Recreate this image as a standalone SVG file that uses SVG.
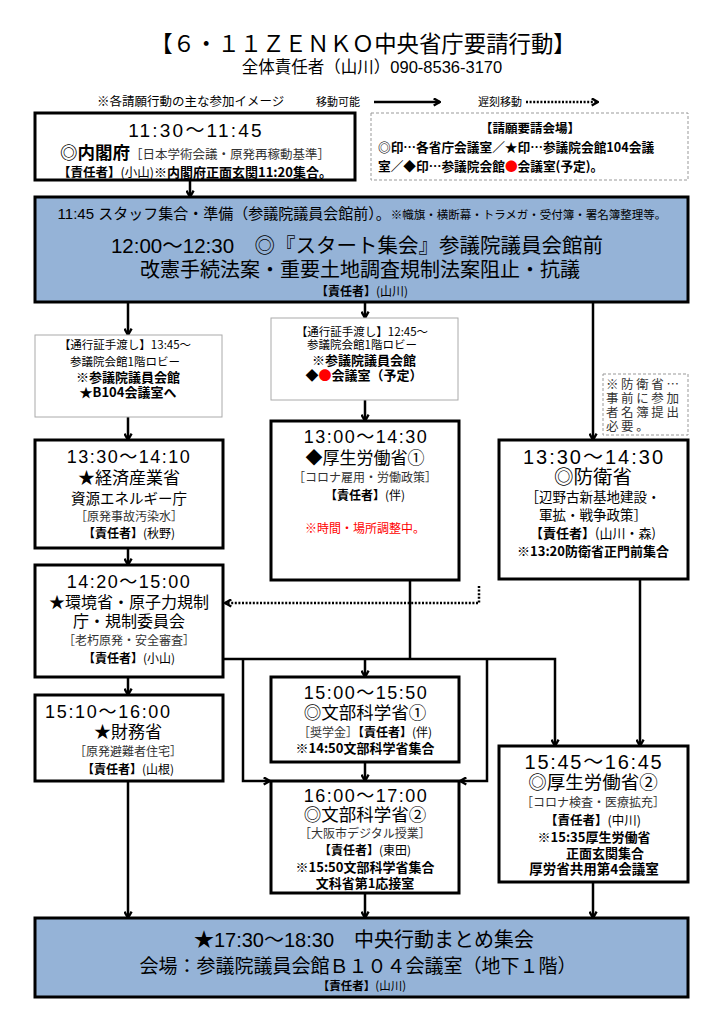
<svg xmlns="http://www.w3.org/2000/svg" width="724" height="1024" viewBox="0 0 724 1024">
<defs>
<marker id="ah" viewBox="0 0 10 10" refX="9" refY="5" markerWidth="9" markerHeight="9" markerUnits="userSpaceOnUse" orient="auto">
<path d="M2,1 L9,5 L2,9" fill="none" stroke="#000" stroke-width="2.6"/>
</marker>
<style>
text{font-family:'Noto Sans CJK JP',sans-serif;fill:#000;text-anchor:middle}
.tm{font-family:'Liberation Sans','Noto Sans CJK JP',sans-serif}
.bd{font-weight:bold}
.lt{fill:#333}
.red{fill:#f00}
.st{text-anchor:start}
.box{fill:#fff;stroke:#000;stroke-width:3}
.blue{fill:#95b3d7;stroke:#000;stroke-width:3}
.note{fill:#fff;stroke:#aaa;stroke-width:1}
.dnote{fill:#fff;stroke:#999;stroke-width:1;stroke-dasharray:3 2}
.ln{fill:none;stroke:#000;stroke-width:2.5}
.ar{fill:none;stroke:#000;stroke-width:2.5;marker-end:url(#ah)}
.dt{fill:none;stroke:#000;stroke-width:2.5;stroke-dasharray:2 1.6;marker-end:url(#ah)}
</style>
</defs>
<rect width="724" height="1024" fill="#fff"/>

<g id="header">
<text x="363" y="52" font-size="22.4">【６・１１ＺＥＮＫＯ中央省庁要請行動】</text>
<text x="372" y="73" font-size="16.5">全体責任者（山川）<tspan class="tm">090-8536-3170</tspan></text>
<text class="st" x="97" y="106" font-size="12.5">※各請願行動の主な参加イメージ</text>
<text class="st" x="316" y="106" font-size="11">移動可能</text>
<text class="st" x="478" y="106" font-size="11">遅刻移動</text>
</g>

<g id="connectors">
<path class="ar" d="M374,102 H440"/>
<path class="dt" d="M526,102 H598"/>
<path class="ar" d="M190,180 V197"/>
<path class="ar" d="M128,302 V335"/>
<path class="ar" d="M365,302 V318"/>
<path class="ar" d="M593,302 V440"/>
<path class="ar" d="M128,417 V440"/>
<path class="ar" d="M365,400 V421"/>
<path class="ar" d="M128,548 V565"/>
<path class="dt" d="M479,586 V603 H225"/>
<path class="ar" d="M128,677 V695"/>
<path class="ar" d="M128,781 V918"/>
<path class="ln" d="M410,580 V659"/>
<path class="ar" d="M223,659 H555 V746"/>
<path class="ar" d="M243,659 V781 H270"/>
<path class="ar" d="M365,659 V677"/>
<path class="ar" d="M487,659 V781 H460"/>
<path class="ar" d="M640,580 V746"/>
<path class="ar" d="M365,762 V781"/>
<path class="ar" d="M365,893 V918"/>
<path class="ar" d="M593,882 V918"/>
</g>

<g id="n-naikakufu">
<rect class="box" x="35" y="113" width="320" height="67"/>
<text class="tm" x="196" y="137" font-size="19" letter-spacing="2.2">11:30～11:45</text>
<text x="195" y="159" font-size="17.5"><tspan class="bd">◎内閣府</tspan><tspan class="lt" font-size="12.5">［日本学術会議・原発再稼動基準］</tspan></text>
<text x="195" y="177" font-size="12.5"><tspan class="bd">【責任者】</tspan>(小山)<tspan class="bd" font-size="13">※内閣府正面玄関11:20集合。</tspan></text>
</g>

<g id="legend">
<rect class="dnote" x="371" y="113" width="317" height="67"/>
<text class="bd" x="530" y="133" font-size="12.5">【請願要請会場】</text>
<text class="bd st" x="378" y="152" font-size="12.7">◎印…各省庁会議室／★印…参議院会館104会議</text>
<text class="bd st" x="378" y="171" font-size="12.7">室／◆印…参議院会館<tspan class="red">●</tspan>会議室(予定)。</text>
</g>

<g id="n-start">
<rect class="blue" x="35" y="197" width="653" height="105"/>
<text x="362" y="219" font-size="15"><tspan class="tm">11:45 </tspan>スタッフ集合・準備（参議院議員会館前）。<tspan font-size="11.5">※幟旗・横断幕・トラメガ・受付簿・署名簿整理等。</tspan></text>
<text x="357" y="253" font-size="20.5"><tspan class="tm">12:00～12:30</tspan>　◎『スタート集会』参議院議員会館前</text>
<text x="360" y="277" font-size="20">改憲手続法案・重要土地調査規制法案阻止・抗議</text>
<text x="362" y="296" font-size="12"><tspan class="bd">【責任者】</tspan>(山川)</text>
</g>

<g id="note1">
<rect class="note" x="35" y="335" width="187" height="82"/>
<text x="125" y="349" font-size="11.5">【通行証手渡し】13:45～</text>
<text x="125" y="366" font-size="11.5">参議院会館1階ロビー</text>
<text class="bd" x="128" y="382" font-size="13">※参議院議員会館</text>
<text class="bd" x="128" y="397" font-size="13">★B104会議室へ</text>
</g>

<g id="note2">
<rect class="note" x="271" y="318" width="187" height="82"/>
<text x="362" y="336" font-size="11.5">【通行証手渡し】12:45～</text>
<text x="362" y="349" font-size="11.5">参議院会館1階ロビー</text>
<text class="bd" x="364" y="365" font-size="13">※参議院議員会館</text>
<text class="bd" x="364" y="380" font-size="13">◆<tspan class="red">●</tspan>会議室（予定）</text>
</g>

<g id="note3">
<rect class="dnote" x="603" y="374" width="85" height="61"/>
<text class="st lt" x="606" y="389" font-size="12.5" letter-spacing="2.6">※防衛省…</text>
<text class="st lt" x="606" y="403" font-size="12.5" letter-spacing="2.6">事前に参加</text>
<text class="st lt" x="606" y="417" font-size="12.5" letter-spacing="2.6">者名簿提出</text>
<text class="st lt" x="606" y="431" font-size="12.5" letter-spacing="2.6">必要。</text>
</g>

<g id="n-meti">
<rect class="box" x="35" y="440" width="188" height="108"/>
<text class="tm" x="129" y="463" font-size="18" letter-spacing="1.5">13:30～14:10</text>
<text x="129" y="484" font-size="17">★経済産業省</text>
<text x="129" y="504" font-size="14.5">資源エネルギー庁</text>
<text class="lt" x="129" y="521" font-size="12">［原発事故汚染水］</text>
<text x="129" y="538" font-size="12"><tspan class="bd">【責任者】</tspan>(秋野)</text>
</g>

<g id="n-mhlw1">
<rect class="box" x="271" y="421" width="188" height="159"/>
<text class="tm" x="366" y="443" font-size="18" letter-spacing="1.5">13:00～14:30</text>
<text x="365" y="464" font-size="17">◆厚生労働省①</text>
<text class="lt" x="365" y="482" font-size="12">［コロナ雇用・労働政策］</text>
<text x="365" y="500" font-size="12"><tspan class="bd">【責任者】</tspan>(伴)</text>
<text class="red" x="365" y="533" font-size="12">※時間・場所調整中。</text>
</g>

<g id="n-bouei">
<rect class="box" x="499" y="440" width="189" height="139"/>
<text class="tm" x="594" y="464" font-size="20" letter-spacing="2">13:30～14:30</text>
<text x="593" y="484" font-size="19.5">◎防衛省</text>
<text x="593" y="502" font-size="13.5">［辺野古新基地建設・</text>
<text x="593" y="520" font-size="13.5">軍拡・戦争政策］</text>
<text x="593" y="538" font-size="13"><tspan class="bd">【責任者】</tspan>(山川・森)</text>
<text class="bd" x="593" y="556" font-size="13">※13:20防衛省正門前集合</text>
</g>

<g id="n-kankyo">
<rect class="box" x="35" y="565" width="188" height="112"/>
<text class="tm" x="129" y="588" font-size="18" letter-spacing="1.5">14:20～15:00</text>
<text x="129" y="608" font-size="16">★環境省・原子力規制</text>
<text x="129" y="627" font-size="16">庁・規制委員会</text>
<text class="lt" x="129" y="645" font-size="12">［老朽原発・安全審査］</text>
<text x="129" y="663" font-size="12"><tspan class="bd">【責任者】</tspan>(小山)</text>
</g>

<g id="n-zaimu">
<rect class="box" x="35" y="695" width="188" height="86"/>
<text class="tm st" x="45" y="718" font-size="18" letter-spacing="1.7">15:10～16:00</text>
<text x="128" y="738" font-size="17">★財務省</text>
<text class="lt" x="128" y="756" font-size="12">［原発避難者住宅］</text>
<text x="128" y="774" font-size="12"><tspan class="bd">【責任者】</tspan>(山根)</text>
</g>

<g id="n-monka1">
<rect class="box" x="271" y="677" width="188" height="85"/>
<text class="tm" x="366" y="699" font-size="18" letter-spacing="1.5">15:00～15:50</text>
<text x="365" y="719" font-size="17.5">◎文部科学省①</text>
<text x="365" y="737" font-size="12"><tspan class="lt">［奨学金］</tspan><tspan class="bd">【責任者】</tspan>(伴)</text>
<text class="bd" x="365" y="753" font-size="13">※14:50文部科学省集合</text>
</g>

<g id="n-monka2">
<rect class="box" x="271" y="781" width="188" height="112"/>
<text class="tm" x="366" y="802" font-size="18" letter-spacing="1.5">16:00～17:00</text>
<text x="365" y="821" font-size="17.5">◎文部科学省②</text>
<text class="lt" x="365" y="838" font-size="12">［大阪市デジタル授業］</text>
<text x="365" y="855" font-size="12"><tspan class="bd">【責任者】</tspan>(東田)</text>
<text class="bd" x="365" y="872" font-size="13">※15:50文部科学省集合</text>
<text class="bd" x="365" y="888" font-size="13">文科省第1応接室</text>
</g>

<g id="n-mhlw2">
<rect class="box" x="499" y="746" width="189" height="136"/>
<text class="tm" x="594" y="769" font-size="20" letter-spacing="1.7">15:45～16:45</text>
<text x="593" y="789" font-size="18.5">◎厚生労働省②</text>
<text class="lt" x="593" y="807" font-size="12">［コロナ検査・医療拡充］</text>
<text x="593" y="825" font-size="12.5"><tspan class="bd">【責任者】</tspan>(中川)</text>
<text class="bd" x="594" y="842" font-size="13">※15:35厚生労働省</text>
<text class="bd" x="605" y="858" font-size="13">正面玄関集合</text>
<text class="bd" x="594" y="874" font-size="13.5">厚労省共用第4会議室</text>
</g>

<g id="n-matome">
<rect class="blue" x="35" y="918" width="653" height="79"/>
<text x="364" y="947" font-size="20">★<tspan class="tm">17:30～18:30</tspan>　中央行動まとめ集会</text>
<text x="358" y="973" font-size="19">会場：参議院議員会館Ｂ１０４会議室（地下１階）</text>
<text x="362" y="990" font-size="11.5"><tspan class="bd">【責任者】</tspan>(山川)</text>
</g>
</svg>
